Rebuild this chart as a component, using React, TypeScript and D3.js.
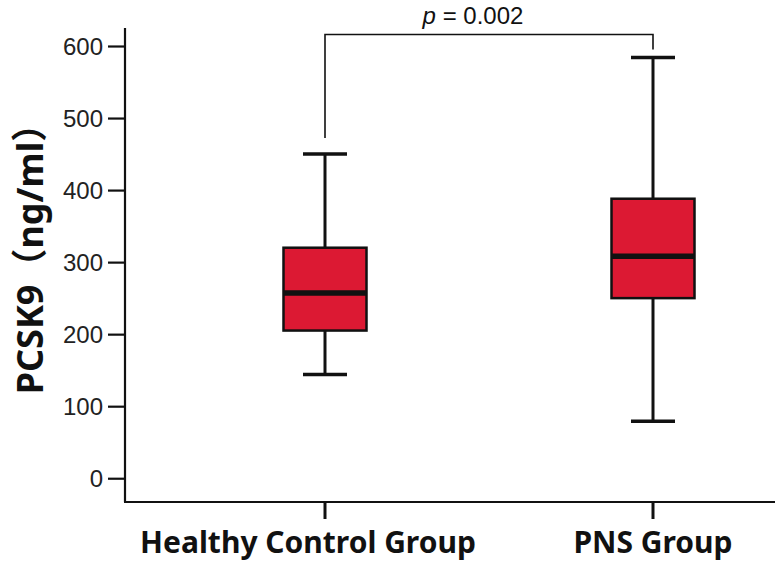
import React, { useEffect, useRef } from "react";
import * as d3 from "d3";

// data
const groups = ["Healthy Control Group", "PNS Group"];
const whiskerLow = [144, 79];
const q1 = [205, 250];
const medians = [257, 308];
const q3 = [320, 388];
const whiskerHigh = [450, 584];
const yTicks = [0, 100, 200, 300, 400, 500, 600];
const pLabel = "0.002";

const W = 780;
const H = 570;

const App = () => {
  const ref = useRef<SVGSVGElement | null>(null);

  useEffect(() => {
    document.body.style.margin = "0";
    const svg = d3.select(ref.current);
    svg.selectAll("*").remove();

    const axisLeftX = 125;
    const axisRightX = 775;
    const axisTop = 28;
    const axisBottom = 502;

    const y = d3.scaleLinear().domain([-33, 625]).range([axisBottom, axisTop]);
    const x = d3.scalePoint<string>().domain(groups).range([325, 653]);

    const boxW = 83;
    const capW = 44;
    const red = "#dc1933";
    const sans = "'Liberation Sans', Arial, sans-serif";
    const bold = "'Noto Sans', 'Noto Sans CJK SC', sans-serif";

    svg.append("rect").attr("width", W).attr("height", H).attr("fill", "#fff");

    // Y axis
    const yAxis = svg
      .append("g")
      .attr("transform", `translate(${axisLeftX},0)`)
      .call(d3.axisLeft(y).tickValues(yTicks).tickSize(17).tickPadding(5).tickSizeOuter(0));
    yAxis.select(".domain").attr("stroke", "#111").attr("stroke-width", 2.2)
      .attr("d", `M0,${axisTop}V${axisBottom}`);
    yAxis.selectAll(".tick line").attr("stroke", "#111").attr("stroke-width", 2.2);
    yAxis
      .selectAll(".tick text")
      .attr("fill", "#222")
      .attr("font-size", 24)
      .attr("font-family", sans)
      .attr("dy", "0.36em");

    // X axis
    svg
      .append("line")
      .attr("x1", axisLeftX - 1)
      .attr("x2", axisRightX)
      .attr("y1", axisBottom)
      .attr("y2", axisBottom)
      .attr("stroke", "#111")
      .attr("stroke-width", 2.2);
    groups.forEach((g) => {
      svg
        .append("line")
        .attr("x1", x(g)!)
        .attr("x2", x(g)!)
        .attr("y1", axisBottom)
        .attr("y2", axisBottom + 17)
        .attr("stroke", "#111")
        .attr("stroke-width", 3);
    });

    // x labels
    const labelShift = [-17, 0];
    groups.forEach((g, i) => {
      svg
        .append("text")
        .attr("x", x(g)! + labelShift[i])
        .attr("y", 553)
        .attr("text-anchor", "middle")
        .attr("font-family", bold)
        .attr("font-weight", "bold")
        .attr("font-size", 30)
        .attr("fill", "#111")
        .text(g);
    });

    // y label
    svg
      .append("text")
      .attr("transform", `translate(43,250) rotate(-90)`)
      .attr("text-anchor", "middle")
      .attr("font-family", bold)
      .attr("font-weight", "bold")
      .attr("font-size", 36)
      .attr("fill", "#111")
      .text("PCSK9（ng/ml）");

    // boxes
    groups.forEach((g, i) => {
      const cx = x(g)!;
      // whiskers
      svg
        .append("line")
        .attr("x1", cx)
        .attr("x2", cx)
        .attr("y1", y(whiskerHigh[i]))
        .attr("y2", y(q3[i]))
        .attr("stroke", "#111")
        .attr("stroke-width", 3);
      svg
        .append("line")
        .attr("x1", cx)
        .attr("x2", cx)
        .attr("y1", y(q1[i]))
        .attr("y2", y(whiskerLow[i]))
        .attr("stroke", "#111")
        .attr("stroke-width", 3);
      [whiskerHigh[i], whiskerLow[i]].forEach((v) => {
        svg
          .append("line")
          .attr("x1", cx - capW / 2)
          .attr("x2", cx + capW / 2)
          .attr("y1", y(v))
          .attr("y2", y(v))
          .attr("stroke", "#111")
          .attr("stroke-width", 3.5);
      });
      svg
        .append("rect")
        .attr("x", cx - boxW / 2)
        .attr("y", y(q3[i]))
        .attr("width", boxW)
        .attr("height", y(q1[i]) - y(q3[i]))
        .attr("fill", red)
        .attr("stroke", "#111")
        .attr("stroke-width", 2.5);
      svg
        .append("line")
        .attr("x1", cx - boxW / 2)
        .attr("x2", cx + boxW / 2)
        .attr("y1", y(medians[i]))
        .attr("y2", y(medians[i]))
        .attr("stroke", "#111")
        .attr("stroke-width", 5.5);
    });

    // significance bracket
    const bTop = y(616);
    const xa = x(groups[0])!;
    const xb = x(groups[1])!;
    svg
      .append("path")
      .attr(
        "d",
        `M${xa},${y(whiskerHigh[0]) - 16}V${bTop}H${xb}V${y(whiskerHigh[1]) - 8}`
      )
      .attr("fill", "none")
      .attr("stroke", "#111")
      .attr("stroke-width", 1.6);
    const pt = svg
      .append("text")
      .attr("x", (xa + xb) / 2 - 16)
      .attr("y", 24)
      .attr("text-anchor", "middle")
      .attr("font-family", sans)
      .attr("font-size", 24)
      .attr("fill", "#111");
    pt.append("tspan").attr("font-style", "italic").text("p");
    pt.append("tspan").text(` = ${pLabel}`);
  }, []);

  return <svg ref={ref} width={W} height={H} style={{ display: "block" }} />;
};

export default App;
